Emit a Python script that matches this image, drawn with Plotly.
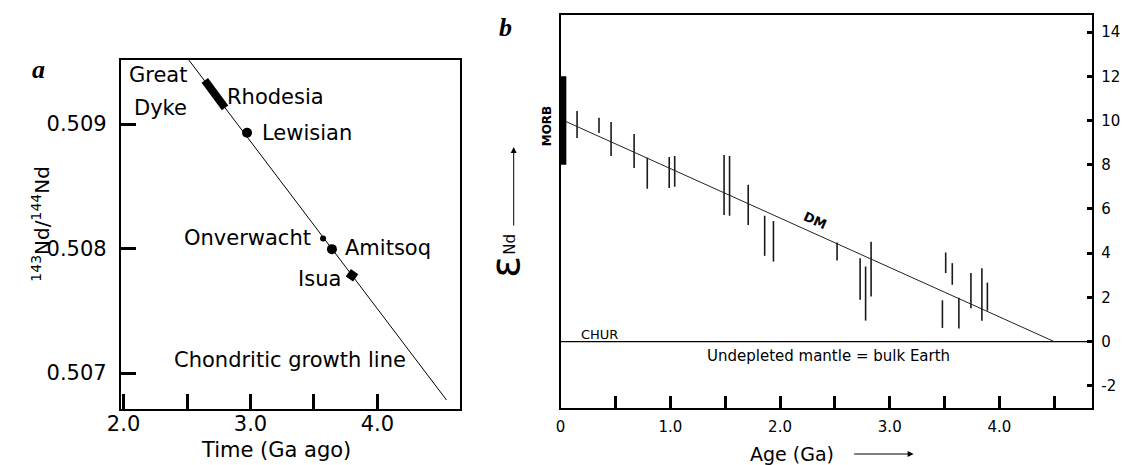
import plotly.graph_objects as go

# ---------------- Panel a data ----------------
chond_time = [2.514, 4.545]
chond_ratio = [0.509514, 0.506783]
rhod_time = [2.64, 2.80]
rhod_ratio = [0.50935, 0.50913]
lew_time = [2.973]
lew_ratio = [0.50893]
onv_time = [3.572]
onv_ratio = [0.508080]
ami_time = [3.642]
ami_ratio = [0.507995]
isua_time = [3.80]
isua_ratio = [0.507785]
a_xticks = [2.0, 2.5, 3.0, 3.5, 4.0]
a_xlabels = ["2.0", "", "3.0", "", "4.0"]
a_yticks = [0.507, 0.508, 0.509]
a_ylabels = ["0.507", "0.508", "0.509"]

# ---------------- Panel b data ----------------
morb_age = [0.025, 0.025]
morb_eps = [8.0, 12.0]
dm_age = [0.05, 4.5]
dm_eps = [9.95, 0.0]
chur_age = [0.0, 4.85]
chur_eps = [0.0, 0.0]
sample_age = [0.15, 0.35, 0.46, 0.67, 0.79, 0.99, 1.04, 1.49, 1.54, 1.71, 1.86, 1.94,
              2.52, 2.73, 2.78, 2.83, 3.48, 3.51, 3.57, 3.63, 3.74, 3.84, 3.89]
eps_hi = [10.43, 10.12, 9.93, 9.39, 8.31, 8.35, 8.40, 8.44, 8.40, 7.09, 5.69, 5.46,
          4.48, 3.77, 3.40, 4.52, 1.87, 4.03, 3.55, 1.98, 3.10, 3.32, 2.67]
eps_lo = [9.21, 9.44, 8.40, 7.85, 6.91, 6.95, 7.00, 5.73, 5.69, 5.28, 3.88, 3.62,
          3.67, 1.89, 0.95, 2.04, 0.62, 3.10, 2.57, 0.59, 1.51, 0.95, 1.40]
b_xticks = [0, 0.5, 1.0, 1.5, 2.0, 2.5, 3.0, 3.5, 4.0, 4.5]
b_xlabels = ["0", "", "1.0", "", "2.0", "", "3.0", "", "4.0", ""]
b_yticks = [-2, 0, 2, 4, 6, 8, 10, 12, 14]
b_ylabels = ["-2", "0", "2", "4", "6", "8", "10", "12", "14"]

W, H = 1123, 465
FONT = "DejaVu Sans"


def px(x):
    return x / W


def py(y):
    return (H - y) / H


fig = go.Figure()

# ---- panel a traces ----
fig.add_trace(go.Scatter(x=chond_time, y=chond_ratio, mode="lines",
                         line=dict(color="black", width=1), xaxis="x", yaxis="y"))
fig.add_trace(go.Scatter(x=rhod_time, y=rhod_ratio, mode="lines",
                         line=dict(color="black", width=8), xaxis="x", yaxis="y"))
fig.add_trace(go.Scatter(x=lew_time, y=lew_ratio, mode="markers",
                         marker=dict(color="black", size=10, symbol="circle"), xaxis="x", yaxis="y"))
fig.add_trace(go.Scatter(x=onv_time, y=onv_ratio, mode="markers",
                         marker=dict(color="black", size=6, symbol="circle"), xaxis="x", yaxis="y"))
fig.add_trace(go.Scatter(x=ami_time, y=ami_ratio, mode="markers",
                         marker=dict(color="black", size=10, symbol="circle"), xaxis="x", yaxis="y"))
fig.add_trace(go.Scatter(x=isua_time, y=isua_ratio, mode="markers",
                         marker=dict(color="black", size=9, symbol="square", angle=35), xaxis="x", yaxis="y"))

# ---- panel b traces ----
fig.add_trace(go.Scatter(x=chur_age, y=chur_eps, mode="lines",
                         line=dict(color="black", width=1.3), xaxis="x2", yaxis="y2"))
fig.add_trace(go.Scatter(x=dm_age, y=dm_eps, mode="lines",
                         line=dict(color="#222", width=1), xaxis="x2", yaxis="y2"))
fig.add_trace(go.Scatter(x=morb_age, y=morb_eps, mode="lines",
                         line=dict(color="black", width=6), xaxis="x2", yaxis="y2"))
bx, by = [], []
for a, hi, lo in zip(sample_age, eps_hi, eps_lo):
    bx += [a, a, None]
    by += [lo, hi, None]
fig.add_trace(go.Scatter(x=bx, y=by, mode="lines",
                         line=dict(color="#1a1a1a", width=1.6), xaxis="x2", yaxis="y2"))

axis_common = dict(showgrid=False, zeroline=False, showline=True, linecolor="black",
                   mirror=True, ticks="inside", tickcolor="black")

fig.update_layout(
    width=W, height=H, autosize=False,
    margin=dict(l=0, r=0, t=0, b=0),
    paper_bgcolor="white", plot_bgcolor="white",
    showlegend=False,
    font=dict(family=FONT, color="black"),
    xaxis=dict(domain=[px(108), px(452)], range=[1.977, 4.654], anchor="y",
               tickvals=a_xticks, ticktext=a_xlabels, ticklen=15, tickwidth=3,
               linewidth=1.5, tickfont=dict(size=21), ticklabelstandoff=-5,
               **axis_common),
    yaxis=dict(domain=[py(409), py(60)], range=[0.506711, 0.509514], anchor="x",
               tickvals=a_yticks, ticktext=a_ylabels, ticklen=16, tickwidth=3,
               linewidth=1.5, tickfont=dict(size=21), ticklabelstandoff=8,
               **axis_common),
    xaxis2=dict(domain=[px(553.5), px(1092)], range=[0, 4.847], anchor="y2",
                tickvals=b_xticks, ticktext=b_xlabels, ticklen=12, tickwidth=3,
                linewidth=1.8, tickfont=dict(size=15), ticklabelstandoff=4,
                **axis_common),
    yaxis2=dict(domain=[py(408), py(15)], range=[-3.0, 14.77], anchor="x2", side="right",
                tickvals=b_yticks, ticktext=b_ylabels, ticklen=5, tickwidth=3,
                linewidth=1.8, tickfont=dict(size=15), ticklabelstandoff=4,
                **axis_common),
)

ann = []


def text(x, y, s, size, xanchor="center", angle=0, **kw):
    ann.append(dict(x=px(x), y=py(y), xref="paper", yref="paper", text=s, showarrow=False,
                    xanchor=xanchor, yanchor="middle", textangle=angle,
                    font=dict(size=size, family=kw.pop("family", FONT), color="black"), **kw))


# panel a labels
text(25, 70, "<b><i>a</i></b>", 26, family="Liberation Serif")
text(177, 75, "Great", 21, xanchor="right")
text(177, 108, "Dyke", 21, xanchor="right")
text(214, 97, "Rhodesia", 21, xanchor="left")
text(249, 133, "Lewisian", 21, xanchor="left")
text(303, 238, "Onverwacht", 21, xanchor="right")
text(333, 248, "Amitsoq", 21, xanchor="left")
text(333, 279, "Isua", 21, xanchor="right")
text(279, 360, "Chondritic growth line", 21)
text(265, 450, "Time (Ga ago)", 21)
text(27, 224, "<sup>143</sup>Nd/<sup>144</sup>Nd", 20, angle=-90)

# panel b labels
text(498, 27, "<b><i>b</i></b>", 26, family="Liberation Serif")
text(540, 126, "<b>MORB</b>", 12, angle=-90)
text(811, 221, "<b>DM</b>", 13, angle=24)
text(593, 334, "CHUR", 13)
text(825, 356, "Undepleted mantle = bulk Earth", 15)
text(788, 454, "Age (Ga)", 19)
text(497, 267, "ε", 40, angle=-90)
text(502, 244, "Nd", 15, angle=-90)

# arrows
ann.append(dict(x=px(506), y=py(147), xref="paper", yref="paper", ax=0, ay=80,
                axref="pixel", ayref="pixel", text="", showarrow=True,
                arrowhead=2, arrowsize=1.2, arrowwidth=1, arrowcolor="black"))
ann.append(dict(x=px(911), y=py(454), xref="paper", yref="paper", ax=-61, ay=0,
                axref="pixel", ayref="pixel", text="", showarrow=True,
                arrowhead=2, arrowsize=1.2, arrowwidth=1, arrowcolor="black"))

fig.update_layout(annotations=ann)
fig.write_html(
    "out.html",
    config={"displayModeBar": False},
    post_script="document.body.style.margin='0';document.body.style.overflow='hidden';"
                "document.documentElement.style.overflow='hidden';",
)
